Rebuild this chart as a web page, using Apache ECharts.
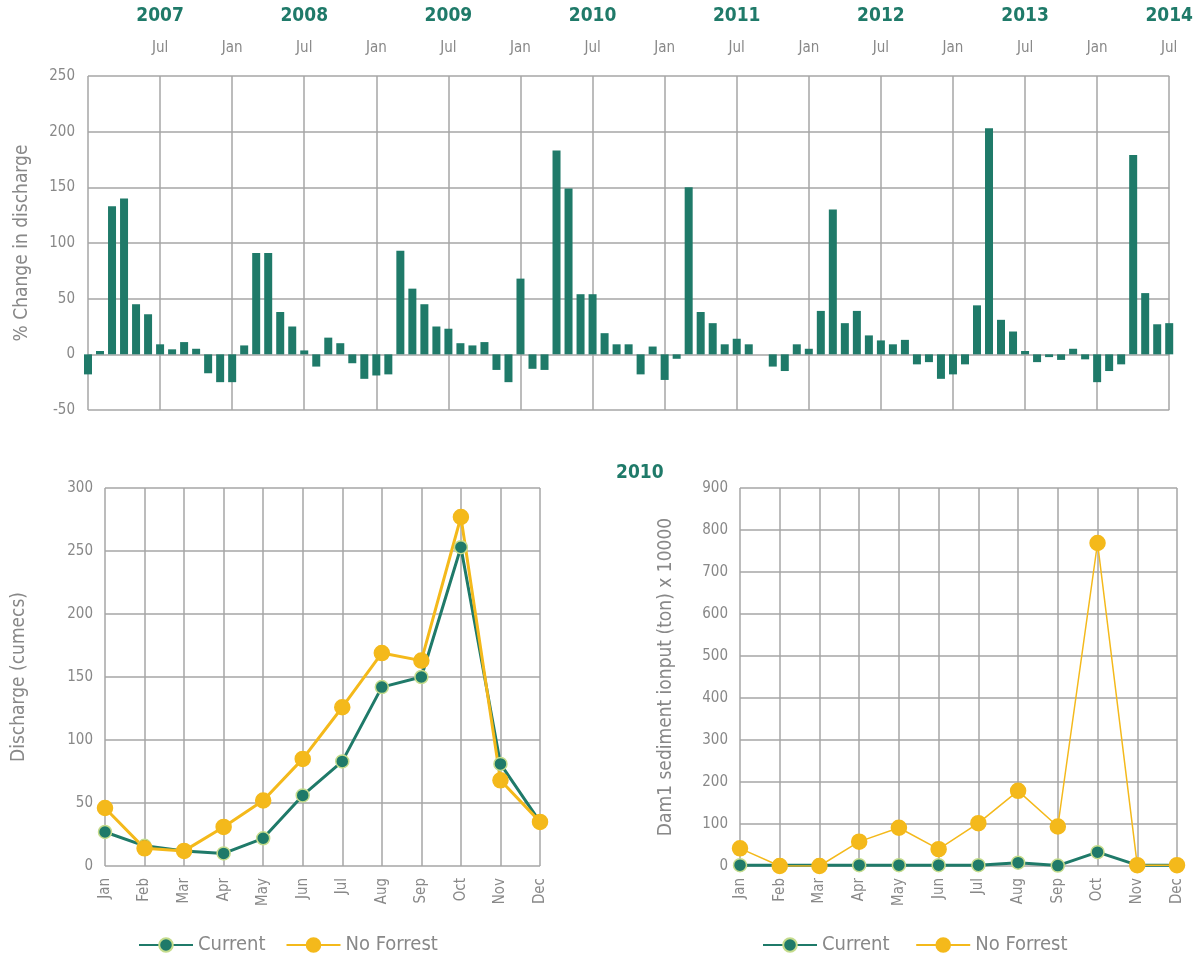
<!DOCTYPE html>
<html>
<head>
<meta charset="utf-8">
<script src="https://cdn.jsdelivr.net/npm/echarts@6/dist/echarts.min.js"></script>
<style>
  html, body { margin: 0; padding: 0; background: #fff; }
  #chart { width: 1196px; height: 956px; }
</style>
</head>
<body>
<div id="chart"></div>
<script>
// monthly % change in discharge, Jan 2007 .. Jul 2014
const years = [2007, 2008, 2009, 2010, 2011, 2012, 2013, 2014];
const monthNames = ['Jan', 'Feb', 'Mar', 'Apr', 'May', 'Jun', 'Jul', 'Aug', 'Sep', 'Oct', 'Nov', 'Dec'];
const pctChange = [
  -18, 3, 133, 140, 45, 36, 9, 4.5, 11, 5, -17, -25,
  -25, 8, 91, 91, 38, 25, 3.5, -11, 15, 10, -8, -22,
  -19, -18, 93, 59, 45, 25, 23, 10, 8, 11, -14, -25,
  68, -13, -14, 183, 149, 54, 54, 19, 9, 9, -18, 7,
  -23, -4, 150, 38, 28, 9, 14, 9, 0, -11, -15, 9,
  5, 39, 130, 28, 39, 17, 12.5, 9, 13, -9, -7, -22,
  -18, -9, 44, 203, 31, 20.5, 3, -7, -2.5, -5, 5, -4.5,
  -25, -15, -9, 179, 55, 27, 28
];
// 2010 discharge (cumecs)
const dischargeCurrent = [27, 16, 12, 10, 22, 56, 83, 142, 150, 253, 81, 35];
const dischargeNoForest = [46, 14, 12, 31, 52, 85, 126, 169, 163, 277, 68, 35];
// 2010 dam1 sediment input (ton x 10000)
const sedimentCurrent = [2, 2, 2, 2, 2, 2, 2, 8, 1, 33, 2, 2];
const sedimentNoForest = [42, 0, 0, 58, 91, 40, 102, 179, 94, 769, 2, 2];

const barCats = [];
for (let i = 0; i < pctChange.length; i++) {
  const y = years[0] + Math.floor(i / 12);
  barCats.push(y + '-' + monthNames[i % 12]);
}

const GREEN = '#1f7a69';
const YELLOW = '#f4b91b';
const GRAY = '#888888';
const GRID = '#a6a6a6';
const FONT = "'DejaVu Sans Condensed', 'Liberation Sans Narrow', 'Roboto', sans-serif";

const chart = echarts.init(document.getElementById('chart'));

function monthAxis(gridIndex) {
  return {
    type: 'category', gridIndex: gridIndex, data: monthNames, boundaryGap: false,
    axisLine: { show: false }, axisTick: { show: false },
    axisLabel: { rotate: 90, color: GRAY, fontSize: 15, fontFamily: FONT, margin: 12, interval: 0 },
    splitLine: { show: true, interval: 0, lineStyle: { color: GRID, width: 1.5 } }
  };
}
function valueAxis(gridIndex, max, interval, name, gap) {
  return {
    type: 'value', gridIndex: gridIndex, min: 0, max: max, interval: interval,
    name: name, nameLocation: 'middle', nameGap: gap,
    nameTextStyle: { color: GRAY, fontSize: 19, fontFamily: FONT },
    axisLine: { show: false }, axisTick: { show: false },
    axisLabel: { color: GRAY, fontSize: 15, fontFamily: FONT, margin: 12 },
    splitLine: { lineStyle: { color: GRID, width: 1.5 } }
  };
}
function lineSeries(name, data, idx, color, width, size, border) {
  return {
    name: name, type: 'line', xAxisIndex: idx + 1, yAxisIndex: idx, data: data,
    symbol: 'circle', symbolSize: size,
    lineStyle: { color: color, width: width },
    itemStyle: { color: color, borderColor: border, borderWidth: 1.5 },
    emphasis: { disabled: true }
  };
}

const legendText = { color: GRAY, fontSize: 20, fontFamily: FONT };

const option = {
  animation: false,
  title: {
    text: '2010', left: 611, top: 459,
    textStyle: { color: GREEN, fontSize: 19, fontWeight: 'bold', fontFamily: FONT }
  },
  legend: [
    {
      data: ['Current', 'No Forrest'], left: 133, top: 930,
      itemWidth: 54, itemHeight: 17, itemGap: 20, textStyle: legendText
    },
    {
      data: ['Current ', 'No Forrest '], left: 757, top: 930,
      itemWidth: 54, itemHeight: 17, itemGap: 20, textStyle: legendText
    }
  ],
  grid: [
    { left: 88, right: 21, top: 76, bottom: 546 },
    { left: 105, right: 656, top: 488, bottom: 90 },
    { left: 740, right: 19, top: 488, bottom: 90 }
  ],
  xAxis: [
    {
      type: 'category', gridIndex: 0, data: barCats, boundaryGap: false, position: 'top',
      axisLine: { show: false }, axisTick: { show: false },
      axisLabel: {
        color: GRAY, fontSize: 15, fontFamily: FONT, margin: 20,
        interval: function (i) { return i % 6 === 0 && i > 0; },
        formatter: function (v) { return v.split('-')[1]; }
      },
      splitLine: { show: true, interval: function (i) { return i % 6 === 0; }, lineStyle: { color: GRID, width: 1.5 } }
    },
    {
      type: 'category', gridIndex: 0, data: barCats, boundaryGap: false, position: 'top', offset: 30,
      axisLine: { show: false }, axisTick: { show: false }, splitLine: { show: false },
      axisLabel: {
        color: GREEN, fontSize: 19, fontWeight: 'bold', fontFamily: FONT, margin: 20,
        interval: function (i) { return i % 12 === 6; },
        formatter: function (v) { return v.split('-')[0]; }
      }
    },
    monthAxis(1),
    monthAxis(2)
  ],
  yAxis: [
    {
      type: 'value', gridIndex: 0, min: -50, max: 250, interval: 50,
      name: '% Change in discharge', nameLocation: 'middle', nameGap: 56,
      nameTextStyle: { color: GRAY, fontSize: 19, fontFamily: FONT },
      axisLine: { show: false }, axisTick: { show: false },
      axisLabel: { color: GRAY, fontSize: 15, fontFamily: FONT, margin: 13 },
      splitLine: { lineStyle: { color: GRID, width: 1.5 } }
    },
    valueAxis(1, 300, 50, 'Discharge (cumecs)', 76),
    valueAxis(2, 900, 100, 'Dam1 sediment ionput (ton) x 10000', 64)
  ],
  series: [
    {
      type: 'bar', xAxisIndex: 0, yAxisIndex: 0, data: pctChange, barWidth: 8,
      itemStyle: { color: GREEN }, emphasis: { disabled: true }
    },
    lineSeries('Current', dischargeCurrent, 1, GREEN, 3, 13, '#c5dc8c'),
    lineSeries('No Forrest', dischargeNoForest, 1, YELLOW, 3, 15, YELLOW),
    lineSeries('Current ', sedimentCurrent, 2, GREEN, 3, 13, '#c5dc8c'),
    lineSeries('No Forrest ', sedimentNoForest, 2, YELLOW, 1.5, 15, YELLOW)
  ]
};

chart.setOption(option);
</script>
</body>
</html>
